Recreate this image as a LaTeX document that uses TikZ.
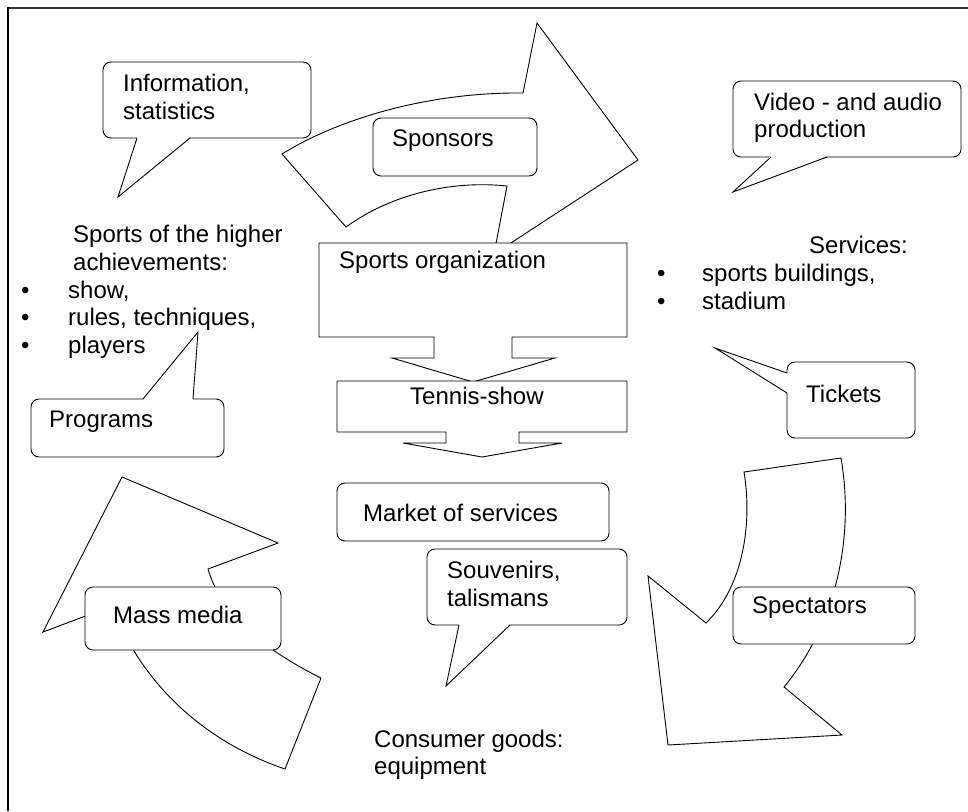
\documentclass[tikz,border=0pt]{standalone}
\usepackage{fontspec}
\setmainfont{Liberation Sans}
\begin{document}
\begin{tikzpicture}[x=1pt,y=-1pt,
  shp/.style={draw=black, line width=0.9pt, fill=white, line join=miter},
  bub/.style={draw=black, line width=0.9pt, fill=white, rounded corners=8pt},
  tailln/.style={draw=black, line width=0.9pt},
  txt/.style={anchor=base west, inner sep=0pt, font=\fontsize{24}{27.6}\selectfont}]
\useasboundingbox (0,0) rectangle (968,811);
% frame
\draw[line width=1.8pt, black!80] (7,8) -- (968,8);
\draw[line width=1.6pt, black] (8,7) -- (8,811);

% Sponsors arrow
\draw[shp] (282,154) .. controls (340,118) and (430,92) .. (523,93)
  -- (537,23) -- (638,160) -- (494,254) -- (507,186)
  .. controls (450,180) and (390,195) .. (346,227) -- cycle;

% Mass media arrow
\draw[shp] (321,678) -- (285,769)
  .. controls (200,740) and (140,680) .. (112,606)
  -- (43,632) -- (122,477) -- (278,543) -- (208,569)
  .. controls (220,610) and (255,645) .. (321,678) -- cycle;

% Spectators arrow
\draw[shp] (744,472) -- (841,458)
  .. controls (855,540) and (835,625) .. (784,687)
  -- (842,735) -- (668,745) -- (648,576) -- (706,623)
  .. controls (745,585) and (752,520) .. (744,472) -- cycle;

% Information bubble
\draw[bub] (103,62) rectangle (311,138);
\fill[white] (137,137) -- (118,197) -- (190,137) -- cycle;
\draw[tailln] (137,138) -- (118,197) -- (190,138);

% Video bubble
\draw[bub] (733,81) rectangle (961,157);
\fill[white] (771,156) -- (733,192) -- (827,156) -- cycle;
\draw[tailln] (771,157) -- (733,192) -- (827,157);

% Sponsors box
\draw[bub] (373,118) rectangle (537,176);

% Sports organization
\draw[shp] (319,243) -- (627,243) -- (627,337) -- (512,337) -- (512,358)
  -- (555,358) -- (473,382) -- (392,358) -- (434,358) -- (434,337)
  -- (319,337) -- cycle;

% Tennis-show
\draw[shp] (337,381) -- (627,381) -- (627,432) -- (519,432) -- (519,443)
  -- (562,443) -- (482,457) -- (403,443) -- (446,443) -- (446,432)
  -- (337,432) -- cycle;

% Tickets bubble
\draw[bub] (787,362) rectangle (915,438);
\fill[white] (788,373) -- (715,348) -- (788,393) -- cycle;
\draw[tailln] (787,373) -- (715,348) -- (787,393);

% Programs bubble
\draw[bub] (31,399) rectangle (224,457);
\fill[white] (143,400) -- (198,332) -- (193,400) -- cycle;
\draw[tailln] (143,399) -- (198,332) -- (193,399);

% Mass media box
\draw[bub] (85,587) rectangle (281,650);

% Market of services
\draw[bub] (337,483) rectangle (609,541);

% Souvenirs bubble
\draw[bub] (427,549) rectangle (627,625);
\fill[white] (459,624) -- (446,686) -- (510,624) -- cycle;
\draw[tailln] (459,625) -- (446,686) -- (510,625);

% Spectators box
\draw[bub] (733,587) rectangle (915,644);

% Texts
\node[txt] (info1) at (123,91.5) {Information,};
\node[txt] (info2) at (123,119) {statistics};
\node[txt] (spons) at (392,146) {Sponsors};
\node[txt] (vid1) at (754,110) {Video - and audio};
\node[txt] (vid2) at (754,137.5) {production};
\node[txt] (high1) at (73,242) {Sports of the higher};
\node[txt] (high2) at (73,270) {achievements:};
\node[txt] (b1) at (21,298) {•};
\node[txt] (l1) at (68,298) {show,};
\node[txt] (b2) at (21,325.5) {•};
\node[txt] (l2) at (68,325.5) {rules, techniques,};
\node[txt] (b3) at (21,353) {•};
\node[txt] (l3) at (68,353) {players};
\node[txt] (sorg) at (339,268) {Sports organization};
\node[txt] (tennis) at (410,404) {Tennis-show};
\node[txt] (serv) at (809,253) {Services:};
\node[txt] (b4) at (657,281) {•};
\node[txt] (s1) at (702,281) {sports buildings,};
\node[txt] (b5) at (657,309) {•};
\node[txt] (s2) at (702,309) {stadium};
\node[txt] (tick) at (806,402) {Tickets};
\node[txt] (prog) at (49,427) {Programs};
\node[txt] (market) at (363,521) {Market of services};
\node[txt] (souv1) at (447,578) {Souvenirs,};
\node[txt] (souv2) at (447,606.5) {talismans};
\node[txt] (mass) at (113,623) {Mass media};
\node[txt] (spect) at (752,613) {Spectators};
\node[txt] (cons1) at (374,747) {Consumer goods:};
\node[txt] (cons2) at (374,774) {equipment};
\end{tikzpicture}
\end{document}
